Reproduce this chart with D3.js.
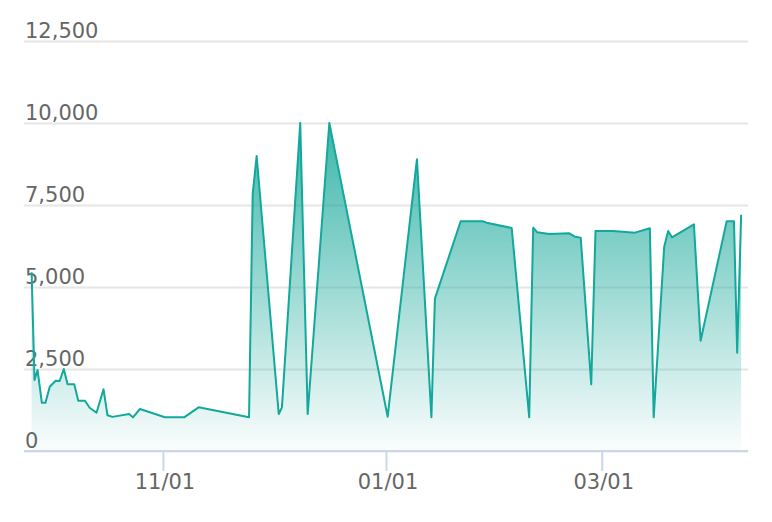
<!DOCTYPE html>
<html>
<head>
<meta charset="utf-8">
<script src="https://cdn.jsdelivr.net/npm/d3@7"></script>
<style>
  html, body { margin: 0; padding: 0; background: #fff; }
  svg { display: block; }
  text { font-family: "DejaVu Sans", Verdana, sans-serif; }
</style>
</head>
<body>
<svg id="chart" width="772" height="522"></svg>
<script>
// ---- data ----
const dates = [
  "2022-09-26T02:00", "2022-09-26T21:00", "2022-09-27T17:00", "2022-09-28T21:00", "2022-09-29T21:00",
  "2022-10-01T01:00", "2022-10-02T16:00", "2022-10-03T18:00", "2022-10-04T21:00", "2022-10-05T22:00",
  "2022-10-07T18:00", "2022-10-08T20:00", "2022-10-10T16:00", "2022-10-11T23:00", "2022-10-13T20:00",
  "2022-10-15T18:00", "2022-10-16T20:00", "2022-10-18T05:00", "2022-10-22T18:00", "2022-10-23T19:00",
  "2022-10-25T17:00", "2022-11-01T13:00", "2022-11-06T19:00", "2022-11-10T18:00", "2022-11-24T13:00",
  "2022-11-25T13:00", "2022-11-26T15:00", "2022-12-02T16:00", "2022-12-03T13:00", "2022-12-08T13:00",
  "2022-12-10T14:00", "2022-12-16T12:00", "2023-01-01T11:00", "2023-01-09T11:00", "2023-01-13T10:00",
  "2023-01-14T09:00", "2023-01-21T10:00", "2023-01-27T10:00", "2023-01-28T12:00", "2023-02-04T09:00",
  "2023-02-09T04:00", "2023-02-10T06:00", "2023-02-11T09:00", "2023-02-14T15:00", "2023-02-20T03:00",
  "2023-02-21T16:00", "2023-02-23T06:00", "2023-02-26T03:00", "2023-02-27T07:00", "2023-03-04T03:00",
  "2023-03-10T02:00", "2023-03-14T04:00", "2023-03-15T05:00", "2023-03-18T02:00", "2023-03-19T04:00",
  "2023-03-20T05:00", "2023-03-26T05:00", "2023-03-28T01:00", "2023-04-04T04:00", "2023-04-06T04:00",
  "2023-04-07T01:00", "2023-04-08T03:00"
];
const values = [
  5450, 2165, 2470, 1473, 1473,
  1960, 2143, 2134, 2500, 2033,
  2033, 1534, 1534, 1320, 1168,
  1881, 1090, 1040, 1128, 1027,
  1281, 1027, 1027, 1331, 1027,
  7830, 8995, 1128, 1331, 10000,
  1128, 10000, 1046, 8893, 1027,
  4644, 7003, 7003, 6961, 6799,
  1027, 6809, 6667, 6616, 6637,
  6534, 6505, 2033, 6710, 6708,
  6657, 6789, 1027, 6229, 6708,
  6515, 6912, 3363, 7003, 7003,
  2997, 7205
];
const yTicks = [0, 2500, 5000, 7500, 10000, 12500];
const xTickDates = ["2022-11-01", "2023-01-01", "2023-03-01"];
const xDomain = ["2022-09-24T00:00", "2023-04-10T00:00"];

// ---- chart ----
const data = dates.map((d, i) => ({ date: new Date(d), value: values[i] }));

const svg = d3.select("#chart");
const mLeft = 24, mRight = 748, mTop = 41, mBottom = 451;

const x = d3.scaleTime()
  .domain(xDomain.map(d => new Date(d)))
  .range([mLeft, mRight]);
const y = d3.scaleLinear()
  .domain([0, 12500])
  .range([mBottom, mTop]);

// gradient
const defs = svg.append("defs");
const grad = defs.append("linearGradient")
  .attr("id", "areaGrad")
  .attr("x1", 0).attr("y1", 0).attr("x2", 0).attr("y2", 1);
grad.append("stop").attr("offset", "0%").attr("stop-color", "#1aa99b").attr("stop-opacity", 0.85);
grad.append("stop").attr("offset", "100%").attr("stop-color", "#1aa99b").attr("stop-opacity", 0.02);

// gridlines + y labels
const yAxis = d3.axisLeft(y)
  .tickValues(yTicks)
  .tickSize(-(mRight - mLeft))
  .tickFormat(d3.format(","));
const gy = svg.append("g")
  .attr("transform", `translate(${mLeft},0)`)
  .call(yAxis);
gy.select(".domain").remove();
gy.selectAll(".tick line")
  .attr("stroke", "#e6e6e6")
  .attr("stroke-width", 2);
gy.selectAll(".tick text")
  .attr("x", 1)
  .attr("dy", -4)
  .attr("text-anchor", "start")
  .attr("fill", "#666666")
  .style("font-size", "21px")
  .style("font-family", "'DejaVu Sans', sans-serif");

// area + line
const area = d3.area()
  .x(d => x(d.date))
  .y0(y(0))
  .y1(d => y(d.value));
const line = d3.line()
  .x(d => x(d.date))
  .y(d => y(d.value));

svg.append("path")
  .datum(data)
  .attr("d", area)
  .attr("fill", "url(#areaGrad)");

svg.append("path")
  .datum(data)
  .attr("d", line)
  .attr("fill", "none")
  .attr("stroke", "#12a89b")
  .attr("stroke-width", 2)
  .attr("stroke-linejoin", "round");

// x axis
const xAxis = d3.axisBottom(x)
  .tickValues(xTickDates.map(d => new Date(d + "T00:00")))
  .tickSize(20)
  .tickPadding(3)
  .tickFormat(d3.timeFormat("%m/%d"));
const gx = svg.append("g")
  .attr("transform", `translate(0,${mBottom})`)
  .call(xAxis);
gx.select(".domain")
  .attr("stroke", "#ccd6eb")
  .attr("stroke-width", 2)
  .attr("d", `M${mLeft},0H${mRight}`);
gx.selectAll(".tick line")
  .attr("stroke", "#ccd6eb")
  .attr("stroke-width", 2);
gx.selectAll(".tick text")
  .attr("x", 1.5)
  .attr("fill", "#666666")
  .style("font-size", "21px")
  .style("font-family", "'DejaVu Sans', sans-serif");
</script>
</body>
</html>
